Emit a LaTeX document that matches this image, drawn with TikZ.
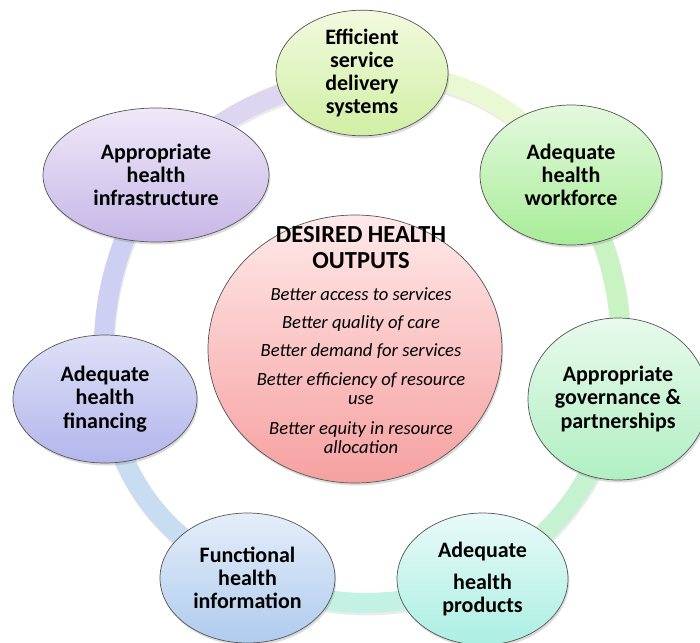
\documentclass[tikz,border=0pt]{standalone}
\usepackage{fontspec}
\setmainfont{Carlito}
\usetikzlibrary{shapes.geometric,shadows}
\pgfdeclarelayer{background}
\pgfsetlayers{background,main}
% ellipse fills (top / bottom)
\definecolor{aT}{HTML}{F2FADF}\definecolor{aB}{HTML}{D0EFA4}
\definecolor{bT}{HTML}{E4F9DE}\definecolor{bB}{HTML}{A8EC98}
\definecolor{cT}{HTML}{E8FAEC}\definecolor{cB}{HTML}{B0EFC2}
\definecolor{dT}{HTML}{E8FAF8}\definecolor{dB}{HTML}{ABEFE2}
\definecolor{eT}{HTML}{E4EEF9}\definecolor{eB}{HTML}{AFCBEE}
\definecolor{fT}{HTML}{DEE0F7}\definecolor{fB}{HTML}{B3B6EB}
\definecolor{gT}{HTML}{EFE9F9}\definecolor{gB}{HTML}{C6B6E6}
\definecolor{hT}{HTML}{FFE9E9}\definecolor{hB}{HTML}{F6A0A0}
% ring segment colours
\definecolor{r12}{HTML}{EAF8D4}
\definecolor{r23}{HTML}{CAF3C4}
\definecolor{r34}{HTML}{C6F2D2}
\definecolor{r45}{HTML}{C3F2E4}
\definecolor{r56}{HTML}{C9DDF2}
\definecolor{r67}{HTML}{CDD0F2}
\definecolor{r71}{HTML}{DDD6F1}
\definecolor{edge}{HTML}{555555}
\begin{document}
\begin{tikzpicture}[x=1pt,y=1pt,
  pill/.style={ellipse, draw=edge, line width=0.7pt, inner sep=0pt, align=center,
    font=\bfseries\fontsize{22}{23.3}\selectfont,
    drop shadow={shadow xshift=1.2pt, shadow yshift=-2.5pt, opacity=0.28}},
  band/.style={line width=20pt, draw=#1},
  bandshadow/.style={line width=20pt, draw=black, opacity=0.08,
    transform canvas={shift={(1pt,-2.5pt)}}},
  itemtext/.style={font=\itshape\fontsize{18.6}{19.5}\selectfont, align=center, inner sep=0pt},
  titletext/.style={font=\bfseries\fontsize{24.5}{26.5}\selectfont, align=center, inner sep=0pt}]
\useasboundingbox (0,0) rectangle (700,-642);

% outer ellipses
\node[pill, minimum width=172, minimum height=118, top color=aT, bottom color=aB] (e1) at (362,-73) {Efficient\\service\\delivery\\systems};
\node[pill, minimum width=182, minimum height=140, top color=bT, bottom color=bB] (e2) at (571,-175) {Adequate\\health\\workforce};
\node[pill, minimum width=180, minimum height=162, top color=cT, bottom color=cB] (e3) at (618,-399) {Appropriate\\governance \&\\partnerships};
\node[pill, minimum width=171, minimum height=132, top color=dT, bottom color=dB] (e4) at (482.5,-579) {Adequate\\[9pt]health\\products};
\node[pill, minimum width=175, minimum height=130, top color=eT, bottom color=eB] (e5) at (247.5,-578) {Functional\\health\\information};
\node[pill, minimum width=184, minimum height=128, top color=fT, bottom color=fB] (e6) at (105,-399) {Adequate\\health\\financing};
\node[pill, minimum width=226, minimum height=134, top color=gT, bottom color=gB] (e7) at (156,-175) {Appropriate\\health\\infrastructure};

% central ellipse
\node[pill, minimum width=294, minimum height=268, top color=hT, bottom color=hB] (hub) at (355,-349) {};
\node[titletext] (title) at (361,-247.5) {DESIRED HEALTH\\OUTPUTS};
\node[itemtext, anchor=base] (o1) at (361,-300) {Better access to services};
\node[itemtext, anchor=base] (o2) at (361,-328.5) {Better quality of care};
\node[itemtext, anchor=base] (o3) at (361,-356.5) {Better demand for services};
\node[itemtext] (o4) at (361,-388.5) {Better efficiency of resource\\use};
\node[itemtext] (o5) at (361,-437.5) {Better equity in resource\\allocation};

% ring behind the ellipses
\begin{pgfonlayer}{background}
\fill[white] (0,0) rectangle (700,-642);
\foreach \a/\b/\bend in {e1/e2/27.5, e2/e3/17.5, e3/e4/22, e4/e5/20.7, e5/e6/26.6, e6/e7/17, e7/e1/16.5}
  \draw[bandshadow] (\a.center) to[bend left=\bend] (\b.center);
\draw[band=r12] (e1.center) to[bend left=27.5] (e2.center);
\draw[band=r23] (e2.center) to[bend left=17.5] (e3.center);
\draw[band=r34] (e3.center) to[bend left=22] (e4.center);
\draw[band=r45] (e4.center) to[bend left=20.7] (e5.center);
\draw[band=r56] (e5.center) to[bend left=26.6] (e6.center);
\draw[band=r67] (e6.center) to[bend left=17] (e7.center);
\draw[band=r71] (e7.center) to[bend left=16.5] (e1.center);
\end{pgfonlayer}
\end{tikzpicture}
\end{document}
